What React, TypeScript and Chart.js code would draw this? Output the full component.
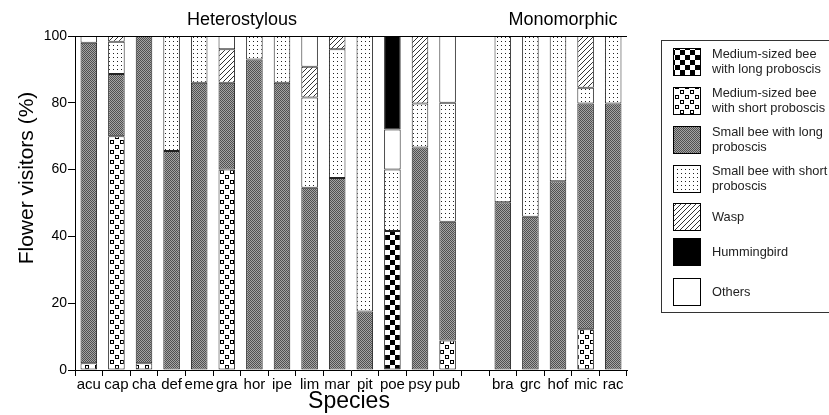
import React, { useEffect, useRef } from 'react';
import { Chart, registerables } from 'chart.js';
Chart.register(...registerables);

const FONT = '"Liberation Sans", Arial, Helvetica, sans-serif';

const species = ['acu', 'cap', 'cha', 'def', 'eme', 'gra', 'hor', 'ipe', 'lim', 'mar', 'pit', 'poe', 'psy', 'pub', '', 'bra', 'grc', 'hof', 'mic', 'rac'];
const medLong =     [0, 0, 0, 0, 0, 0, 0, 0, 0, 0, 0, 41.6, 0, 0, 0, 0, 0, 0, 0, 0];
const medShort =    [2, 70, 2, 0, 0, 60, 0, 0, 0, 0, 0, 0, 0, 8.8, 0, 0, 0, 0, 12.2, 0];
const smallLong =   [96, 18.6, 98, 65.6, 86, 26, 93, 86, 54.6, 57.5, 17.5, 0, 66.6, 35.6, 0, 50.2, 45.9, 56.5, 67.6, 79.8];
const smallShort =  [0, 9.7, 0, 34.4, 14, 0, 7, 14, 27, 38.5, 82.5, 18.4, 13.2, 35.6, 0, 49.8, 54.1, 43.5, 4.7, 20.2];
const wasp =        [0, 1.7, 0, 0, 0, 10, 0, 0, 9.2, 4, 0, 0, 20.2, 0, 0, 0, 0, 0, 15.5, 0];
const others =      [2, 0, 0, 0, 0, 4, 0, 0, 9.2, 0, 0, 12, 0, 20, 0, 0, 0, 0, 0, 0];
const hummingbird = [0, 0, 0, 0, 0, 0, 0, 0, 0, 0, 0, 28, 0, 0, 0, 0, 0, 0, 0, 0];
const yTicks = [0, 20, 40, 60, 80, 100];
const groupLabels = ['Heterostylous', 'Monomorphic'];
const legendLabels = [
  ['Medium-sized bee', 'with long proboscis'],
  ['Medium-sized bee', 'with short proboscis'],
  ['Small bee with long', 'proboscis'],
  ['Small bee with short', 'proboscis'],
  ['Wasp'],
  ['Hummingbird'],
  ['Others'],
];

function makePattern(size: number, draw: (c: CanvasRenderingContext2D) => void): CanvasPattern | string {
  const cv = document.createElement('canvas');
  cv.width = size;
  cv.height = size;
  const c = cv.getContext('2d')!;
  c.fillStyle = '#fff';
  c.fillRect(0, 0, size, size);
  draw(c);
  const ctx = document.createElement('canvas').getContext('2d')!;
  return ctx.createPattern(cv, 'repeat') || '#888';
}

export default function App() {
  const ref = useRef<HTMLCanvasElement>(null);
  useEffect(() => {
    if (!ref.current) return;
    const pMedLong = makePattern(10, (c) => {
      c.fillStyle = '#000';
      c.fillRect(0, 0, 5, 5);
      c.fillRect(5, 5, 5, 5);
    });
    const pMedShort = makePattern(10, (c) => {
      c.fillStyle = '#000';
      c.fillRect(0, 0, 4, 4);
      c.fillRect(5, 5, 4, 4);
      c.fillStyle = '#fff';
      c.fillRect(1, 1, 2, 2);
      c.fillRect(6, 6, 2, 2);
    });
    const pSmallLong = makePattern(2, (c) => {
      c.fillStyle = '#a4a4a4';
      c.fillRect(0, 0, 2, 2);
      c.fillStyle = '#505050';
      c.fillRect(0, 0, 1, 1);
      c.fillRect(1, 1, 1, 1);
    });
    const pSmallShort = makePattern(4, (c) => {
      c.fillStyle = '#222';
      c.fillRect(1, 1, 1, 1);
    });
    const pWasp = makePattern(5, (c) => {
      c.strokeStyle = '#333';
      c.lineWidth = 1;
      c.beginPath();
      c.moveTo(-1, 6);
      c.lineTo(6, -1);
      c.stroke();
    });
    const fills = [pMedLong, pMedShort, pSmallLong, pSmallShort, pWasp, '#000', '#fff'];

    const mk = (label: string, data: number[], bg: any) => ({
      label,
      data,
      backgroundColor: bg,
      borderColor: '#222',
      borderWidth: 1,
      borderSkipped: false as const,
      barPercentage: 0.6,
      categoryPercentage: 1,
    });

    const decor = {
      id: 'decor',
      afterDraw(chart: any) {
        const { ctx, chartArea: a } = chart;
        ctx.save();
        ctx.strokeStyle = '#000';
        ctx.lineWidth = 1;
        ctx.beginPath();
        ctx.moveTo(a.left, a.top + 0.5);
        ctx.lineTo(a.right, a.top + 0.5);
        ctx.stroke();
        ctx.fillStyle = '#000';
        ctx.textAlign = 'center';
        ctx.textBaseline = 'middle';
        ctx.font = `18px ${FONT}`;
        ctx.fillText(groupLabels[0], 242, 20);
        ctx.fillText(groupLabels[1], 563, 20);
        ctx.font = `23px ${FONT}`;
        ctx.fillText('Species', 349, 402);
        ctx.save();
        ctx.translate(27, 178);
        ctx.rotate(-Math.PI / 2);
        ctx.font = `21px ${FONT}`;
        ctx.fillText('Flower visitors (%)', 0, 0);
        ctx.restore();
        // legend
        ctx.strokeStyle = '#333';
        ctx.strokeRect(661.5, 40.5, 180, 272);
        const centers = [62, 101, 140, 179, 217, 252, 292];
        ctx.font = `12.8px ${FONT}`;
        ctx.textAlign = 'left';
        legendLabels.forEach((lines, i) => {
          const cy = centers[i];
          ctx.fillStyle = fills[i];
          ctx.fillRect(673, cy - 14, 28, 28);
          ctx.strokeStyle = '#000';
          ctx.strokeRect(673.5, cy - 13.5, 27, 27);
          ctx.fillStyle = '#222';
          if (lines.length === 1) {
            ctx.fillText(lines[0], 712, cy);
          } else {
            ctx.fillText(lines[0], 712, cy - 7.3);
            ctx.fillText(lines[1], 712, cy + 7.3);
          }
        });
        ctx.restore();
      },
    };

    const chart = new Chart(ref.current, {
      type: 'bar',
      data: {
        labels: species,
        datasets: [
          mk('Medium-sized bee with long proboscis', medLong, pMedLong),
          mk('Medium-sized bee with short proboscis', medShort, pMedShort),
          mk('Small bee with long proboscis', smallLong, pSmallLong),
          mk('Small bee with short proboscis', smallShort, pSmallShort),
          mk('Wasp', wasp, pWasp),
          mk('Others', others, '#fff'),
          mk('Hummingbird', hummingbird, '#000'),
        ],
      },
      options: {
        responsive: false,
        animation: false,
        devicePixelRatio: 1,
        layout: { padding: { left: 0, top: 36, right: 202, bottom: 0 } },
        plugins: { legend: { display: false }, tooltip: { enabled: false }, title: { display: false } },
        scales: {
          x: {
            stacked: true,
            grid: { offset: true, drawOnChartArea: false, drawTicks: true, tickLength: 6, color: '#000' },
            border: { display: true, color: '#000' },
            ticks: { color: '#000', font: { family: FONT, size: 15 }, padding: 0, maxRotation: 0, autoSkip: false },
            afterFit: (s: any) => { s.height = 45; },
          },
          y: {
            stacked: true,
            min: 0,
            max: 100,
            afterBuildTicks: (s: any) => { s.ticks = yTicks.map((v) => ({ value: v })); },
            grid: { drawOnChartArea: false, drawTicks: true, tickLength: 7, color: '#000' },
            border: { display: true, color: '#000' },
            ticks: { color: '#000', font: { family: FONT, size: 14 }, padding: 1 },
            afterFit: (s: any) => { s.width = 75; },
          },
        },
      },
      plugins: [decor],
    } as any);
    return () => chart.destroy();
  }, []);
  return (
    <div style={{ position: 'fixed', left: 0, top: 0, width: 829, height: 415, background: '#fff' }}>
      <canvas ref={ref} width={829} height={415} style={{ width: 829, height: 415, display: 'block' }} />
    </div>
  );
}
